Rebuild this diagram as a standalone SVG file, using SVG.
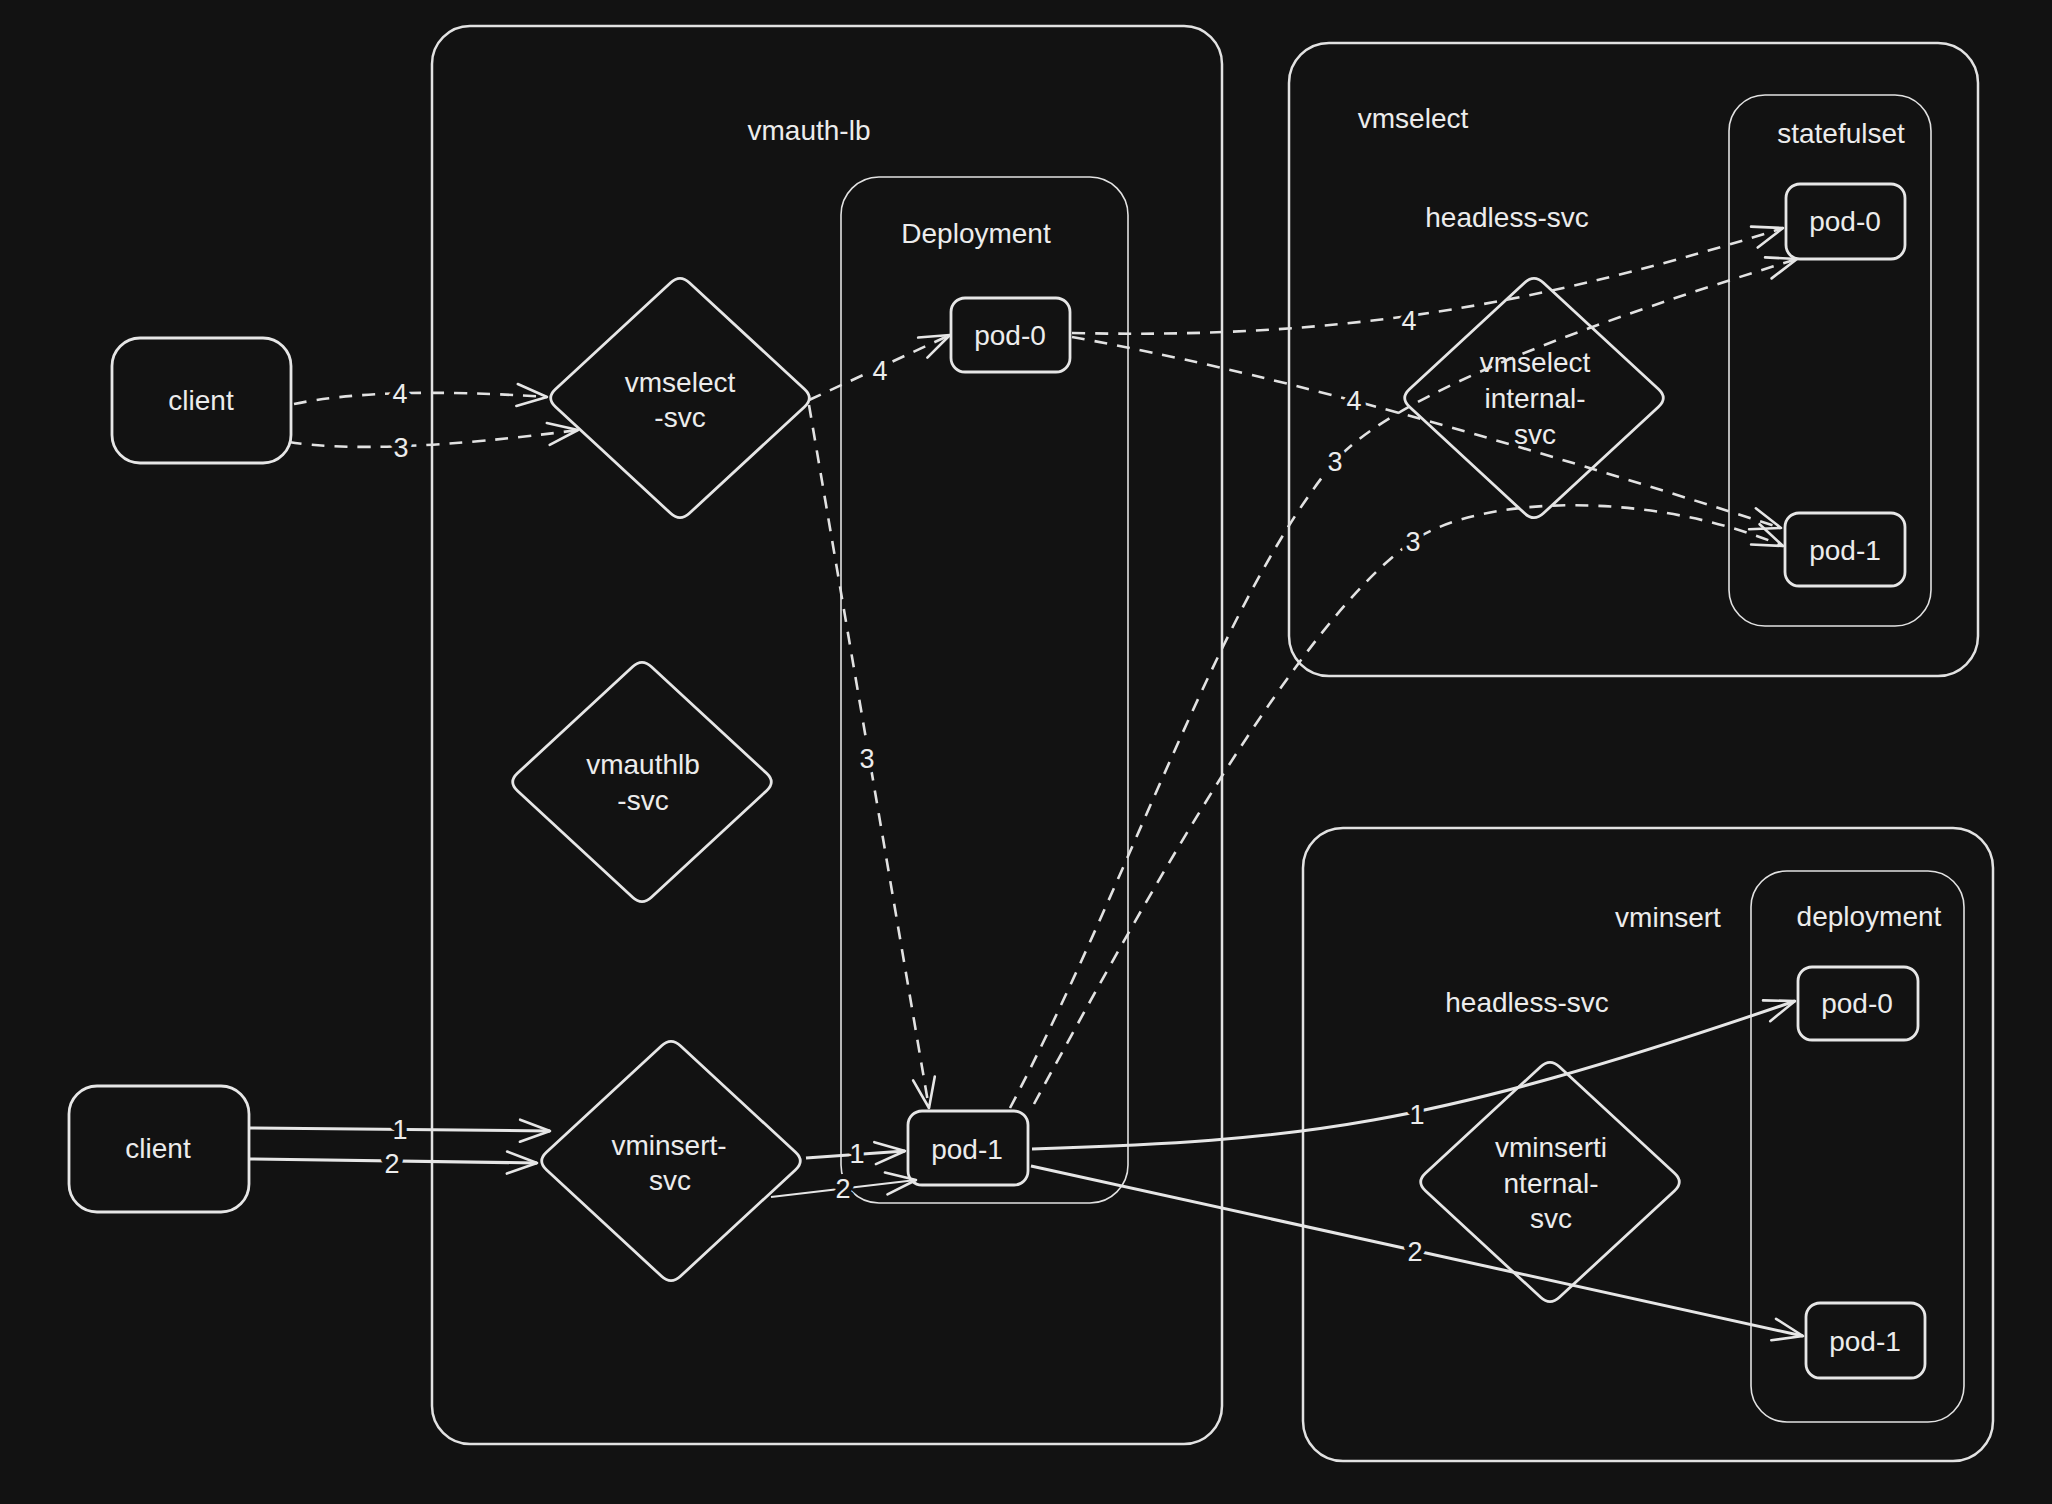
<svg xmlns="http://www.w3.org/2000/svg" width="2052" height="1504" viewBox="0 0 2052 1504">
<style>
.bg{fill:#121212}
.box{fill:none;stroke:#e2e2e2;stroke-width:2.5}
.thin{fill:none;stroke:#e2e2e2;stroke-width:1.6}
.node{fill:#121212;stroke:#e6e6e6;stroke-width:2.8}
text{font-family:"Liberation Sans","Noto Sans",sans-serif;fill:#ececec;font-size:28px;text-anchor:middle}
.lbl{font-size:27px;stroke:#121212;stroke-width:10;paint-order:stroke;stroke-linejoin:round}
.dash{fill:none;stroke:#e2e2e2;stroke-width:2.6;stroke-dasharray:13 10;marker-end:url(#arr)}
.solid{fill:none;stroke:#e6e6e6;stroke-width:3;marker-end:url(#arr)}
.solidthin{fill:none;stroke:#e6e6e6;stroke-width:1.8;marker-end:url(#arr)}
</style>
<defs>
<marker id="arr" markerUnits="userSpaceOnUse" viewBox="0 0 34 26" markerWidth="34" markerHeight="26" refX="32" refY="13" orient="auto">
<path d="M2,2 L32,13 L2,24" fill="none" stroke="#e6e6e6" stroke-width="2.6" stroke-linecap="round" stroke-linejoin="round"/>
</marker>
<path id="dia" d="M9.4,-115.3 L124.6,-8.7 Q134,0 124.6,8.7 L9.4,115.3 Q0,124 -9.4,115.3 L-124.6,8.7 Q-134,0 -124.6,-8.7 L-9.4,-115.3 Q0,-124 9.4,-115.3 Z"/>
</defs>
<rect class="bg" x="0" y="0" width="2052" height="1504"/>

<g id="vmauth-lb">
<rect class="box" x="432" y="26" width="790" height="1418" rx="38"/>
<text x="809" y="140">vmauth-lb</text>
</g>
<g id="deployment-lb">
<rect class="thin" x="841" y="177" width="287" height="1026" rx="38"/>
<text x="976" y="243">Deployment</text>
</g>
<g id="vmselect">
<rect class="box" x="1289" y="43" width="689" height="633" rx="40"/>
<text x="1413" y="128">vmselect</text>
<text x="1507" y="227">headless-svc</text>
</g>
<g id="statefulset">
<rect class="thin" x="1729" y="95" width="202" height="531" rx="36"/>
<text x="1841" y="143">statefulset</text>
</g>
<g id="vminsert">
<rect class="box" x="1303" y="828" width="690" height="633" rx="40"/>
<text x="1668" y="927">vminsert</text>
<text x="1527" y="1012">headless-svc</text>
</g>
<g id="deployment-vminsert">
<rect class="thin" x="1751" y="871" width="213" height="551" rx="36"/>
<text x="1869" y="926">deployment</text>
</g>

<g id="client-1">
<rect class="node" x="112" y="338" width="179" height="125" rx="28"/>
<text x="201" y="410">client</text>
</g>
<g id="client-2">
<rect class="node" x="69" y="1086" width="180" height="126" rx="28"/>
<text x="158" y="1158">client</text>
</g>
<g id="vmselect-svc">
<use href="#dia" class="node" transform="translate(680,398)"/>
<text x="680" y="392">vmselect</text>
<text x="680" y="427">-svc</text>
</g>
<g id="vmauthlb-svc">
<use href="#dia" class="node" transform="translate(642,782)"/>
<text x="643" y="774">vmauthlb</text>
<text x="643" y="810">-svc</text>
</g>
<g id="vminsert-svc">
<use href="#dia" class="node" transform="translate(671,1161)"/>
<text x="669" y="1155">vminsert-</text>
<text x="670" y="1190">svc</text>
</g>
<g id="vmselect-internal-svc">
<use href="#dia" class="node" transform="translate(1534,398)"/>
<text x="1535" y="372">vmselect</text>
<text x="1535" y="408">internal-</text>
<text x="1535" y="444">svc</text>
</g>
<g id="vminsert-internal-svc">
<use href="#dia" class="node" transform="translate(1550,1182)"/>
<text x="1551" y="1157">vminserti</text>
<text x="1551" y="1193">nternal-</text>
<text x="1551" y="1228">svc</text>
</g>
<g id="lb-pod-0">
<rect class="node" x="951" y="298" width="119" height="74" rx="14"/>
<text x="1010" y="345">pod-0</text>
</g>
<g id="lb-pod-1">
<rect class="node" x="908" y="1111" width="120" height="74" rx="14"/>
<text x="967" y="1159">pod-1</text>
</g>
<g id="vmselect-pod-0">
<rect class="node" x="1786" y="184" width="119" height="75" rx="14"/>
<text x="1845" y="231">pod-0</text>
</g>
<g id="vmselect-pod-1">
<rect class="node" x="1785" y="513" width="120" height="73" rx="14"/>
<text x="1845" y="560">pod-1</text>
</g>
<g id="vminsert-pod-0">
<rect class="node" x="1798" y="967" width="120" height="73" rx="14"/>
<text x="1857" y="1013">pod-0</text>
</g>
<g id="vminsert-pod-1">
<rect class="node" x="1806" y="1303" width="119" height="75" rx="14"/>
<text x="1865" y="1351">pod-1</text>
</g>

<g id="connectors">
<path class="dash" d="M294,404 Q380,386 547,397"/>
<path class="dash" d="M289,442 Q380,456 578,430"/>
<path class="dash" d="M809,400 L950,335"/>
<path class="dash" d="M809,405 L929,1108"/>
<path class="solid" d="M249,1128 L550,1131"/>
<path class="solid" d="M249,1159 L537,1163"/>
<path class="solid" d="M806,1158 L905,1151"/>
<path class="solidthin" d="M771,1197 L916,1180"/>
<path class="dash" d="M1072,333 C1300,338 1500,318 1783,228"/>
<path class="dash" d="M1072,337 C1200,360 1400,405 1781,528"/>
<path class="dash" d="M1010,1108 C1130,880 1220,600 1335,461 C1400,390 1600,320 1797,259"/>
<path class="dash" d="M1034,1104 C1150,890 1300,620 1413,541 C1480,495 1650,490 1783,546"/>
<path class="solid" d="M1032,1149 C1300,1140 1420,1130 1795,1001"/>
<path class="solid" d="M1031,1166 L1803,1336"/>
<text class="lbl" x="400" y="403">4</text>
<text class="lbl" x="401" y="457">3</text>
<text class="lbl" x="880" y="380">4</text>
<text class="lbl" x="867" y="768">3</text>
<text class="lbl" x="400" y="1139">1</text>
<text class="lbl" x="392" y="1173">2</text>
<text class="lbl" x="857" y="1163">1</text>
<text class="lbl" x="843" y="1198">2</text>
<text class="lbl" x="1409" y="330">4</text>
<text class="lbl" x="1354" y="410">4</text>
<text class="lbl" x="1335" y="471">3</text>
<text class="lbl" x="1413" y="551">3</text>
<text class="lbl" x="1417" y="1124">1</text>
<text class="lbl" x="1415" y="1261">2</text>
</g>
</svg>
